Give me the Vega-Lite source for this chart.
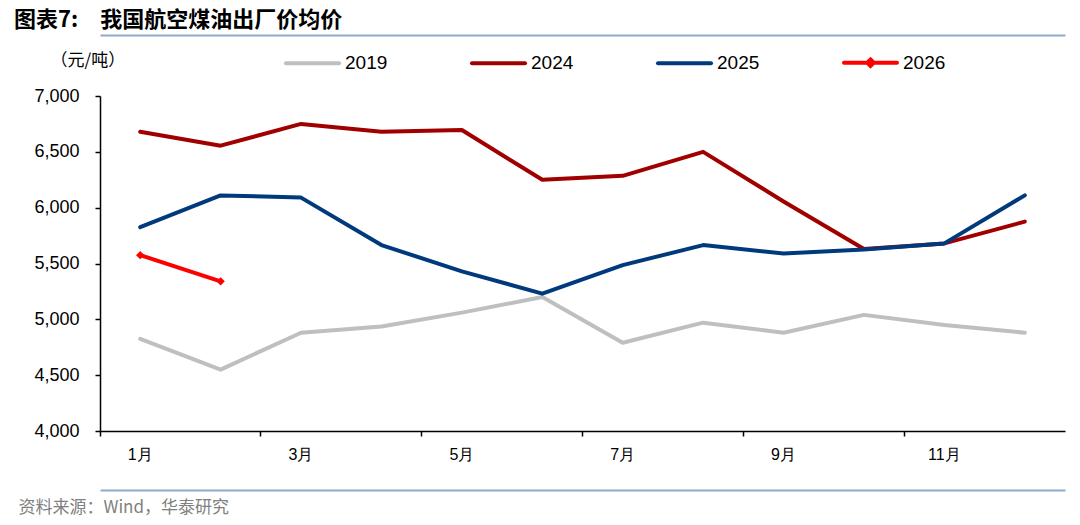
{
  "$schema": "https://vega.github.io/schema/vega-lite/v6.json",
  "width": 965,
  "height": 335,
  "autosize": "none",
  "padding": {"left": 100, "top": 96, "right": 15, "bottom": 94},
  "background": "white",
  "config": {"view": {"stroke": null}, "font": "Liberation Sans"},
  "title": {
    "text": "图表7:　我国航空煤油出厂价均价",
    "anchor": "start",
    "frame": "group",
    "dx": -86,
    "dy": 18,
    "font": "Noto Sans CJK SC",
    "fontSize": 22,
    "fontWeight": "bold",
    "color": "#000000",
    "offset": 20
  },
  "data": {
    "values": [
      {"year": "2019", "month": "1月", "price": 4825},
      {"year": "2019", "month": "2月", "price": 4550},
      {"year": "2019", "month": "3月", "price": 4880},
      {"year": "2019", "month": "4月", "price": 4935},
      {"year": "2019", "month": "5月", "price": 5060},
      {"year": "2019", "month": "6月", "price": 5200},
      {"year": "2019", "month": "7月", "price": 4790},
      {"year": "2019", "month": "8月", "price": 4970},
      {"year": "2019", "month": "9月", "price": 4880},
      {"year": "2019", "month": "10月", "price": 5040},
      {"year": "2019", "month": "11月", "price": 4950},
      {"year": "2019", "month": "12月", "price": 4880},
      {"year": "2024", "month": "1月", "price": 6680},
      {"year": "2024", "month": "2月", "price": 6555},
      {"year": "2024", "month": "3月", "price": 6750},
      {"year": "2024", "month": "4月", "price": 6680},
      {"year": "2024", "month": "5月", "price": 6695},
      {"year": "2024", "month": "6月", "price": 6250},
      {"year": "2024", "month": "7月", "price": 6285},
      {"year": "2024", "month": "8月", "price": 6500},
      {"year": "2024", "month": "9月", "price": 6055},
      {"year": "2024", "month": "10月", "price": 5630},
      {"year": "2024", "month": "11月", "price": 5680},
      {"year": "2024", "month": "12月", "price": 5875},
      {"year": "2025", "month": "1月", "price": 5825},
      {"year": "2025", "month": "2月", "price": 6110},
      {"year": "2025", "month": "3月", "price": 6090},
      {"year": "2025", "month": "4月", "price": 5665},
      {"year": "2025", "month": "5月", "price": 5430},
      {"year": "2025", "month": "6月", "price": 5230},
      {"year": "2025", "month": "7月", "price": 5485},
      {"year": "2025", "month": "8月", "price": 5665},
      {"year": "2025", "month": "9月", "price": 5590},
      {"year": "2025", "month": "10月", "price": 5625},
      {"year": "2025", "month": "11月", "price": 5680},
      {"year": "2025", "month": "12月", "price": 6110},
      {"year": "2026", "month": "1月", "price": 5575},
      {"year": "2026", "month": "2月", "price": 5340}
    ]
  },
  "encoding": {
    "y": {
      "field": "price",
      "type": "quantitative",
      "scale": {"domain": [4000, 7000], "zero": false, "nice": false},
      "axis": {
        "values": [4000, 4500, 5000, 5500, 6000, 6500, 7000],
        "format": ",.0f",
        "grid": false,
        "domainColor": "#000000",
        "domainWidth": 1.5,
        "tickColor": "#000000",
        "tickWidth": 1.5,
        "tickSize": 5,
        "labelFont": "Liberation Sans",
        "labelFontSize": 18,
        "labelColor": "#000000",
        "labelPadding": 16,
        "title": "（元/吨）",
        "titleAngle": 0,
        "titleX": -50,
        "titleY": -36,
        "titleAlign": "left",
        "titleBaseline": "middle",
        "titleFont": "Noto Sans CJK SC",
        "titleFontSize": 17,
        "titleFontWeight": "normal",
        "titleColor": "#000000"
      }
    }
  },
  "layer": [
    {
      "transform": [{"filter": "datum.year != '2026'"}],
      "mark": {"type": "line", "strokeWidth": 4, "strokeCap": "round", "strokeJoin": "round"},
      "encoding": {
        "x": {
          "field": "month",
          "type": "ordinal",
          "bandPosition": 0.5,
          "scale": {"type": "band", "paddingInner": 0, "paddingOuter": 0,
            "domain": ["1月","2月","3月","4月","5月","6月","7月","8月","9月","10月","11月","12月"]},
          "axis": {
            "orient": "bottom",
            "values": ["1月","3月","5月","7月","9月","11月"],
            "bandPosition": 0,
            "tickExtra": false,
            "labelAngle": 0,
            "domainColor": "#000000",
            "domainWidth": 1.5,
            "tickColor": "#000000",
            "tickWidth": 1.5,
            "tickSize": 5,
            "labelFont": "Liberation Sans",
            "labelFontSize": 16,
            "labelColor": "#000000",
            "labelPadding": 10,
            "title": "资料来源：Wind，华泰研究",
            "titleX": -82,
            "titleY": 76,
            "titleAlign": "left",
            "titleBaseline": "middle",
            "titleFont": "Noto Sans CJK SC",
            "titleFontSize": 17,
            "titleFontWeight": "normal",
            "titleColor": "#808080"
          }
        },
        "color": {
          "field": "year",
          "type": "nominal",
          "scale": {"domain": ["2019", "2024", "2025", "2026"], "range": ["#BFBFBF", "#A00000", "#003A7D", "#FF0000"]},
          "legend": {
            "title": null,
            "orient": "none",
            "legendX": 184,
            "legendY": -62,
            "direction": "horizontal",
            "symbolType": "stroke",
            "symbolSize": 2809,
            "symbolStrokeWidth": 4,
            "labelFont": "Liberation Sans",
            "labelFontSize": 19,
            "labelColor": "#000000",
            "labelOffset": 4,
            "columnPadding": 76,
            "encode": {
              "symbols": {
                "update": {
                  "shape": {"signal": "datum.value == '2026' ? 'M-1,0H1M0,-0.12L0.12,0L0,0.12L-0.12,0Z' : 'stroke'"},
                  "fill": {"signal": "datum.value == '2026' ? '#FF0000' : 'transparent'"},
                  "strokeCap": {"value": "round"}
                }
              }
            }
          }
        }
      }
    },
    {
      "transform": [{"filter": "datum.year == '2026'"}],
      "mark": {"type": "line", "strokeWidth": 4, "strokeCap": "round", "strokeJoin": "round", "color": "#FF0000"},
      "encoding": {
        "x": {
          "field": "month",
          "type": "ordinal",
          "bandPosition": 0.5,
          "scale": {"type": "band", "paddingInner": 0, "paddingOuter": 0,
            "domain": ["1月","2月","3月","4月","5月","6月","7月","8月","9月","10月","11月","12月"]},
          "axis": {
            "orient": "bottom",
            "offset": 59,
            "labels": false,
            "ticks": false,
            "title": null,
            "domainColor": "#8EAACB",
            "domainWidth": 2
          }
        }
      }
    },
    {
      "transform": [{"filter": "datum.year == '2026'"}],
      "mark": {"type": "point", "shape": "diamond", "filled": true, "size": 70, "opacity": 1, "color": "#FF0000"},
      "encoding": {
        "x": {
          "field": "month",
          "type": "ordinal",
          "bandPosition": 0.5,
          "scale": {"type": "band", "paddingInner": 0, "paddingOuter": 0,
            "domain": ["1月","2月","3月","4月","5月","6月","7月","8月","9月","10月","11月","12月"]},
          "axis": {
            "orient": "top",
            "offset": 61,
            "labels": false,
            "ticks": false,
            "title": null,
            "domainColor": "#8EAACB",
            "domainWidth": 2
          }
        }
      }
    }
  ],
  "resolve": {"axis": {"x": "independent"}}
}
